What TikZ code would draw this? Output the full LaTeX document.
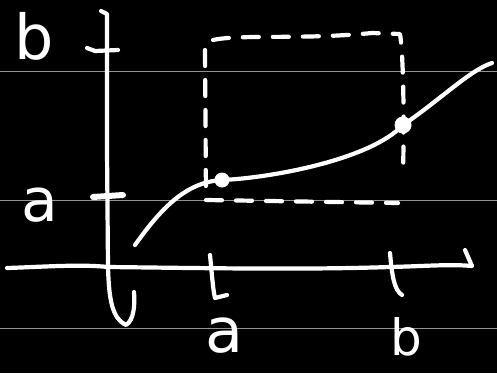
\documentclass[tikz,border=0pt]{standalone}
\usepackage{fontspec}
\setmainfont{DejaVu Sans}
\begin{document}
\begin{tikzpicture}[x=1pt,y=-1pt,
  ink/.style={draw=white,line width=4.2pt,line cap=round,line join=round},
  rule/.style={draw=gray!85,line width=1pt},
  dashbox/.style={ink,dash pattern=on 16pt off 14pt},
  lbl/.style={text=white,inner sep=0pt,font=\fontsize{#1}{#1}\selectfont},
  dot/.style={fill=white,draw=none}]
\fill[black] (0,0) rectangle (497,373);
\useasboundingbox (0,0) rectangle (497,373);
% notebook rules
\draw[rule] (0,71) -- (497,71);
\draw[rule] (0,200) -- (497,200);
\draw[rule] (0,328) -- (497,328);
% coordinates
\coordinate (ytop) at (101,11);
\coordinate (org) at (108,267);
\coordinate (xleft) at (7,268);
\coordinate (xright) at (472,266);
% y axis with bottom hook
\draw[ink] (ytop) -- (107,14) -- (107,150) -- (org) .. controls (109,300) and (112,318) .. (126,325) .. controls (134,320) and (135,305) .. (134,292);
% x axis with right hook
\draw[ink] (xleft) .. controls (40,267) and (80,264) .. (org) .. controls (200,268) and (300,270) .. (390,267) .. controls (430,266) and (450,264) .. (xright) -- (465,250);
% y ticks
\draw[ink] (87,48) -- (95,51) -- (118,50);
\draw[ink,line width=6pt] (93,197) -- (123,195);
% x ticks
\draw[ink] (210,255) .. controls (212,275) and (213,290) .. (215,298) -- (227,295);
\draw[ink] (390,253) .. controls (392,275) and (394,290) .. (402,295);
% dashed rectangle
\draw[dashbox] (205,50) -- (206,200) -- (398,203);
\draw[dashbox] (213,40) .. controls (240,34) and (300,40) .. (372,33) -- (400,34) .. controls (404,60) and (404,130) .. (403,176);
% curve
\coordinate (c0) at (135,245);
\coordinate (pa) at (222,180);
\coordinate (pb) at (403,125);
\coordinate (c1) at (492,63);
\draw[ink] (c0) .. controls (160,210) and (185,182) .. (pa) .. controls (270,178) and (370,160) .. (pb) .. controls (440,100) and (470,70) .. (c1);
\fill[dot] (pa) circle (7.5);
\fill[dot] (pb) circle (8.5);
% labels
\node[lbl=62] (lb) at (34,36) {b};
\node[lbl=60] (la) at (40,205) {a};
\node[lbl=62] (ba) at (224,336) {a};
\node[lbl=50] (bb) at (406,337) {b};
\end{tikzpicture}
\end{document}
